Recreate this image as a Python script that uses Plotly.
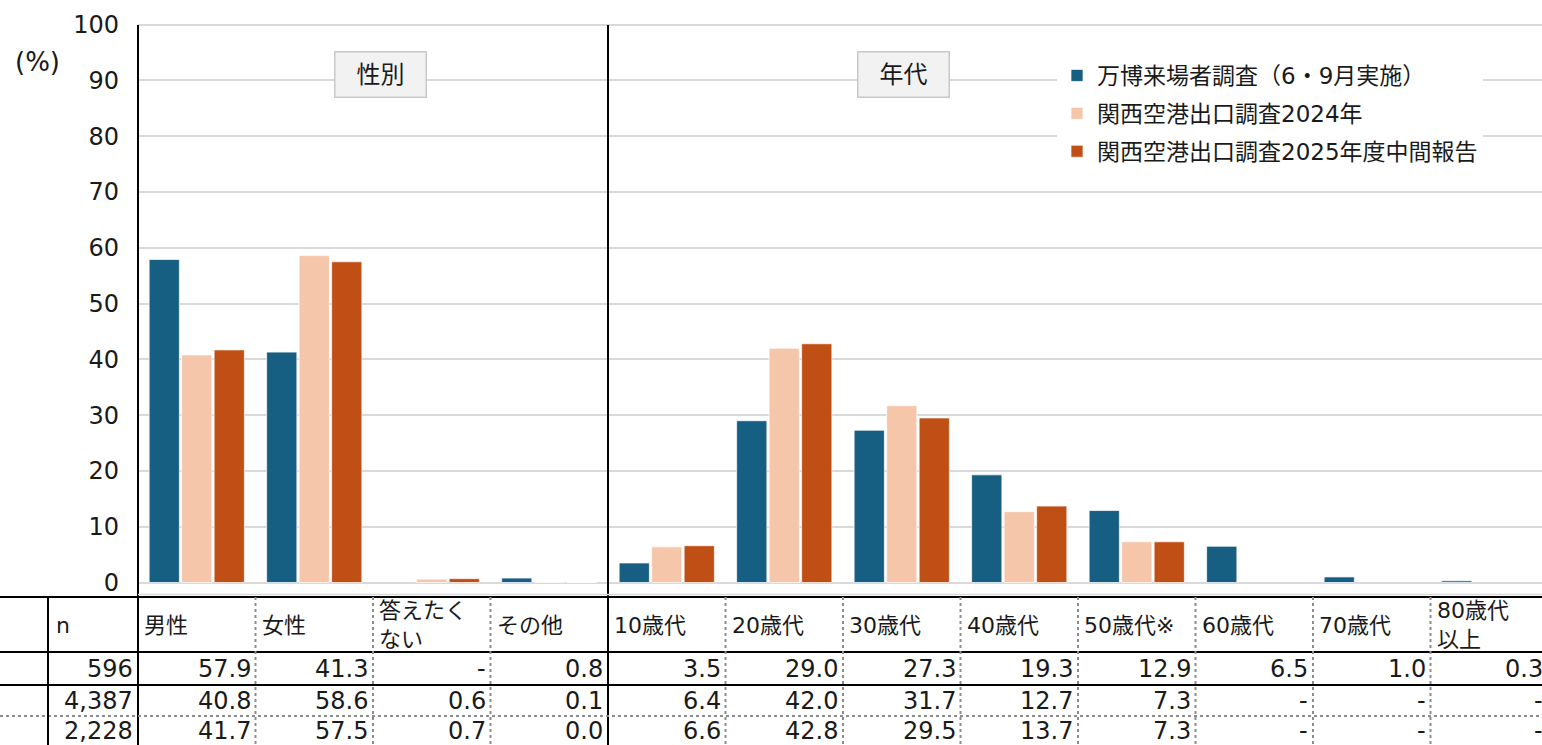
import plotly.graph_objects as go

# ---- data -------------------------------------------------------------
categories = ["男性", "女性", "答えたくない", "その他",
              "10歳代", "20歳代", "30歳代", "40歳代",
              "50歳代※", "60歳代", "70歳代", "80歳代以上"]
header_labels = ["男性", "女性", "答えたく<br>ない", "その他",
                 "10歳代", "20歳代", "30歳代", "40歳代",
                 "50歳代※", "60歳代", "70歳代", "80歳代<br>以上"]

series_names = ["万博来場者調査（6・9月実施）",
                "関西空港出口調査2024年",
                "関西空港出口調査2025年度中間報告"]
expo_2025 = [57.9, 41.3, None, 0.8, 3.5, 29.0, 27.3, 19.3, 12.9, 6.5, 1.0, 0.3]
kix_2024 = [40.8, 58.6, 0.6, 0.1, 6.4, 42.0, 31.7, 12.7, 7.3, None, None, None]
kix_2025_mid = [41.7, 57.5, 0.7, 0.0, 6.6, 42.8, 29.5, 13.7, 7.3, None, None, None]
sample_sizes = [596, 4387, 2228]

panel_labels = ["性別", "年代"]
y_ticks = [0, 10, 20, 30, 40, 50, 60, 70, 80, 90, 100]

# ---- styling ----------------------------------------------------------
colors = ["#175f82", "#f6c6ab", "#c04f15"]
FONT = "DejaVu Sans, Noto Sans CJK JP, sans-serif"
TXT = "#1a1a1a"
W, H = 1542, 745
PLOT_L, PLOT_T, PLOT_B = 138, 23, 595   # plot area in pixels
COL_W = (W + 6 - PLOT_L) / len(categories)


def px(p):
    """pixel x -> paper x"""
    return (p - PLOT_L) / (W - PLOT_L)


def py(p):
    """pixel y -> paper y"""
    return (PLOT_B - p) / (PLOT_B - PLOT_T)


def col_left(i):
    return PLOT_L + i * COL_W


all_series = [expo_2025, kix_2024, kix_2025_mid]

fig = go.Figure()
x_idx = list(range(len(categories)))
for name, vals, col in zip(series_names, all_series, colors):
    fig.add_trace(go.Bar(
        x=x_idx, y=vals, name=name, legendgroup=name,
        marker=dict(color=col, line=dict(color="rgba(255,255,255,0.7)", width=1)),
    ))

shapes = []
annotations = []

top = 1 - 2 / (PLOT_B - PLOT_T)
# full-height axis line and the divider between the two panels
shapes.append(dict(type="line", xref="paper", yref="paper", x0=0, x1=0,
                   y0=top, y1=py(H), line=dict(color="black", width=2)))
shapes.append(dict(type="line", xref="paper", yref="paper", x0=px(col_left(4)), x1=px(col_left(4)),
                   y0=top, y1=py(H), line=dict(color="black", width=2)))
# bottom edge of the chart area
shapes.append(dict(type="line", xref="paper", yref="paper", x0=0, x1=1,
                   y0=py(594.5), y1=py(594.5), line=dict(color="#d9d9d9", width=1.5)))

# ---- table below the chart -------------------------------------------
row_lines = [(597, "black", "solid"), (652, "black", "solid"),
             (685, "black", "solid"), (716, "#8c8c8c", "dot")]
for yy, c, d in row_lines:
    shapes.append(dict(type="line", xref="paper", yref="paper", x0=px(0), x1=1,
                       y0=py(yy), y1=py(yy),
                       line=dict(color=c, width=2.2 if d == "solid" else 2, dash=d)))
# n column left edge
shapes.append(dict(type="line", xref="paper", yref="paper", x0=px(48), x1=px(48),
                   y0=py(597), y1=py(H), line=dict(color="black", width=2)))
# dotted column separators
for i in range(1, len(categories)):
    if i == 4:
        continue
    xx = px(col_left(i))
    shapes.append(dict(type="line", xref="paper", yref="paper", x0=xx, x1=xx,
                       y0=py(597), y1=py(H), line=dict(color="#8c8c8c", width=2, dash="dot")))

hdr_y = py(625)
row_y = [py(669), py(701), py(731)]

annotations.append(dict(text="n", xref="paper", yref="paper", x=px(54), y=hdr_y,
                        xanchor="left", yanchor="middle", showarrow=False,
                        font=dict(size=22, family=FONT, color=TXT)))
for r, n in enumerate(sample_sizes):
    annotations.append(dict(text=f"{n:,}", xref="paper", yref="paper", x=px(135), y=row_y[r],
                            xanchor="right", yanchor="middle", showarrow=False,
                            font=dict(size=24, family=FONT, color=TXT)))

for i, lab in enumerate(header_labels):
    annotations.append(dict(text=lab, xref="paper", yref="paper", x=px(col_left(i) + 4), y=hdr_y,
                            xanchor="left", yanchor="middle", align="left", showarrow=False,
                            font=dict(size=22, family=FONT, color=TXT)))
    for r, vals in enumerate(all_series):
        v = vals[i]
        txt = "-" if v is None else f"{v:.1f}"
        annotations.append(dict(text=txt, xref="paper", yref="paper",
                                x=px(col_left(i + 1) - 3), y=row_y[r],
                                xanchor="right", yanchor="middle", showarrow=False,
                                font=dict(size=24, family=FONT, color=TXT)))

# ---- panel labels and unit ------------------------------------------
for lab, cx in zip(panel_labels, [380, 903.5]):
    annotations.append(dict(text=lab, xref="paper", yref="paper", x=px(cx), y=py(74.5),
                            xanchor="center", yanchor="middle", showarrow=False,
                            width=88, height=42, bgcolor="#f2f2f2",
                            bordercolor="#c8c8c8", borderwidth=1.5, borderpad=1,
                            font=dict(size=24, family=FONT, color=TXT)))
annotations.append(dict(text="(%)", xref="paper", yref="paper", x=px(37), y=py(62),
                        xanchor="center", yanchor="middle", showarrow=False,
                        font=dict(size=26, family=FONT, color=TXT)))

fig.update_layout(
    width=W, height=H,
    margin=dict(l=PLOT_L, r=0, t=PLOT_T, b=H - PLOT_B),
    paper_bgcolor="white", plot_bgcolor="white",
    barmode="group", bargap=0.17, bargroupgap=0.07,
    font=dict(family=FONT, color=TXT),
    showlegend=True,
    legend=dict(x=px(1057), y=py(54), xanchor="left", yanchor="top",
                bgcolor="white", borderwidth=0, tracegroupgap=5,
                itemwidth=30,
                font=dict(size=23, family=FONT, color=TXT)),
    xaxis=dict(range=[-0.5, len(categories) - 0.5 - 6 / COL_W], showticklabels=False,
               showgrid=False, zeroline=False, showline=False, ticks=""),
    yaxis=dict(range=[-2.24, 100.3], tickvals=y_ticks, showgrid=True,
               gridcolor="#d9d9d9", gridwidth=1.5, zeroline=False, showline=False,
               ticks="", ticklabelstandoff=18,
               tickfont=dict(size=24, family=FONT, color=TXT)),
    shapes=shapes, annotations=annotations,
)

fig.write_html("out.html")
